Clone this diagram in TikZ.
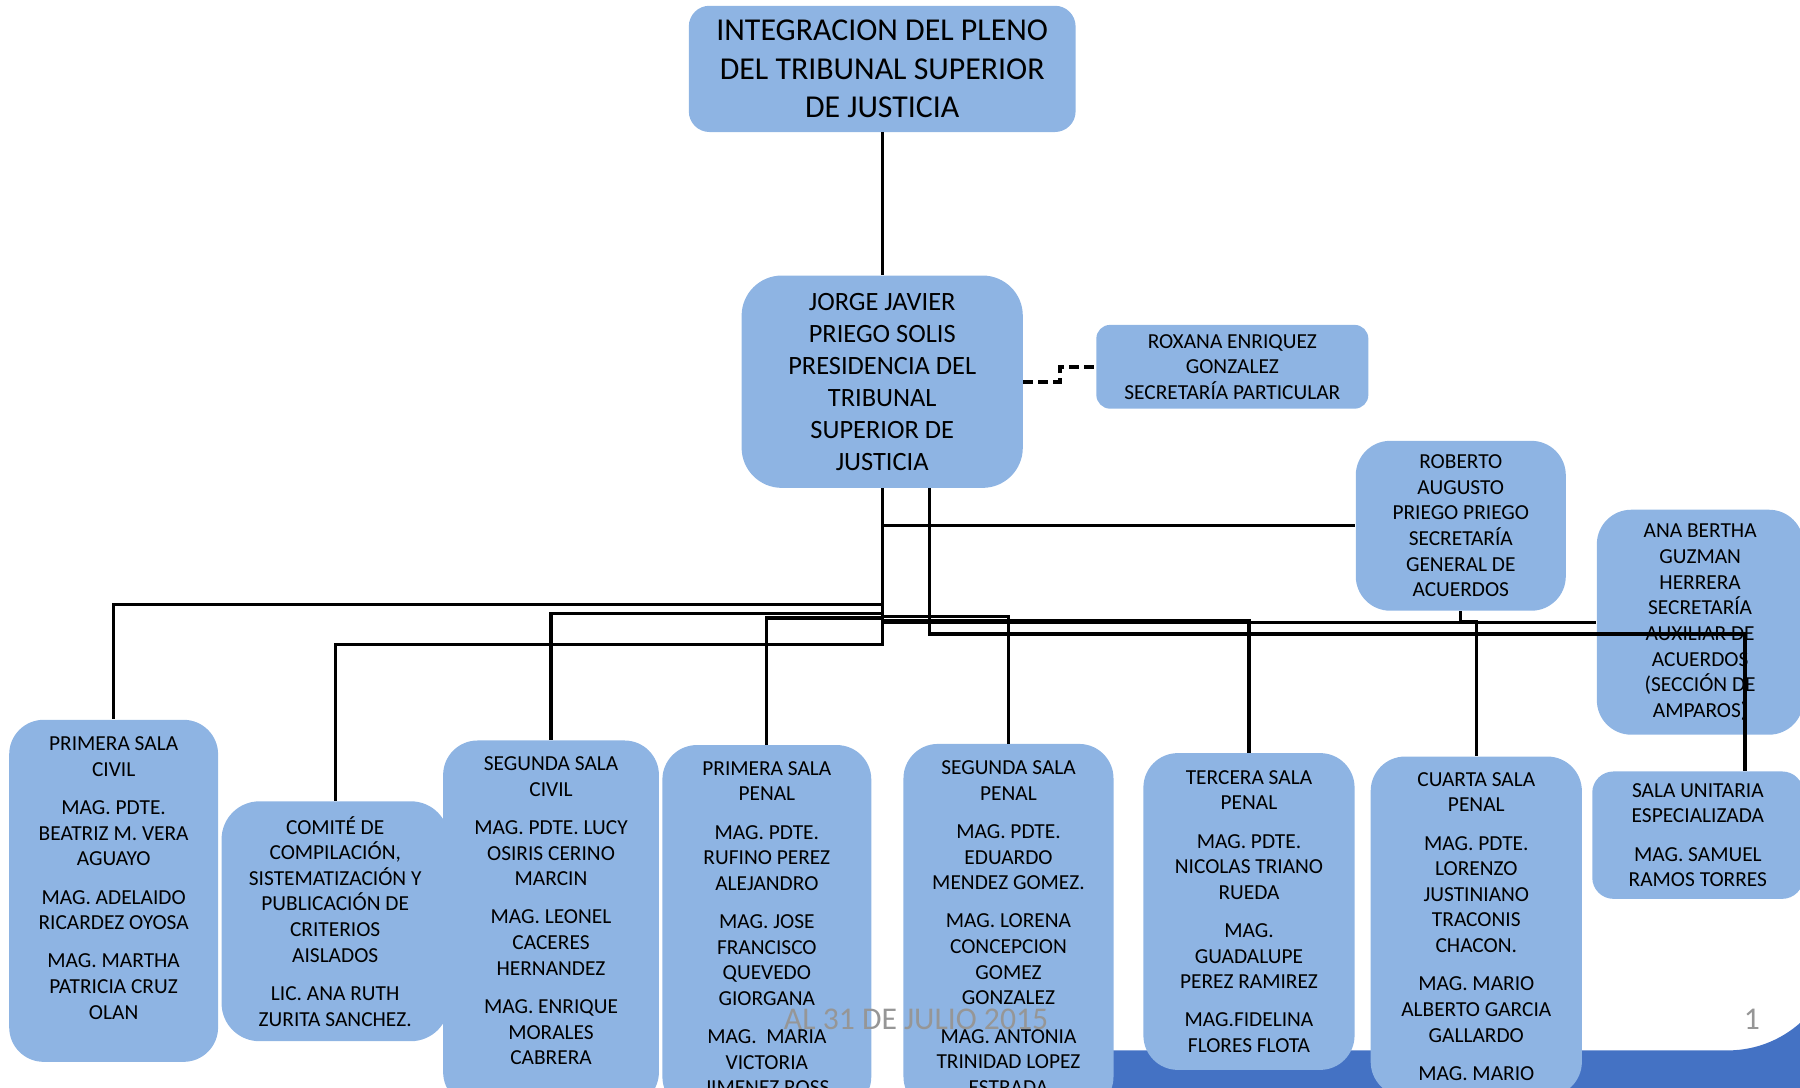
\documentclass[tikz,border=0pt]{standalone}
\usepackage{fontspec}
\setmainfont{Carlito}
\definecolor{boxblue}{RGB}{142,180,227}
\definecolor{bandblue}{RGB}{68,114,196}
\definecolor{footgray}{RGB}{150,150,150}
\begin{document}
\begin{tikzpicture}[x=0.02cm,y=-0.02cm,
		box/.style={rectangle,rounded corners=0.6cm,fill=boxblue,align=center,inner sep=0pt,font=\fontsize{10.6}{12.7}\selectfont},
		link/.style={black,line width=1.6pt},
		aide/.style={black,line width=2pt,dash pattern=on 5pt off 2.5pt},
		foot/.style={text=footgray,font=\fontsize{15.7}{19}\selectfont}]
	\useasboundingbox (0,0) rectangle (1568,947);
	\clip (0,0) rectangle (1568,947);
	% banda inferior
	\fill[bandblue] (962,915)--(1505,915) .. controls (1557.5,915) and (1600,872.5) .. (1600,820)--(1600,950)--(962,950)--cycle;
	% cajas
	\node[box,font=\fontsize{15.8}{19.1}\selectfont,rounded corners=0.36cm,minimum width=6.74cm,minimum height=2.2cm](pleno) at (768.5,60){INTEGRACION DEL PLENO\\DEL TRIBUNAL SUPERIOR\\DE JUSTICIA};
	\node[box,font=\fontsize{13.1}{15.9}\selectfont,rounded corners=0.7cm,minimum width=4.9cm,minimum height=3.7cm](presidencia) at (768.5,332.5){JORGE JAVIER\\PRIEGO SOLIS\\PRESIDENCIA DEL\\TRIBUNAL\\SUPERIOR DE\\JUSTICIA};
	\node[box,rounded corners=0.24cm,minimum width=4.74cm,minimum height=1.46cm](particular) at (1073.5,319.5){ROXANA ENRIQUEZ\\GONZALEZ\\SECRETARÍA PARTICULAR};
	\node[box,minimum width=3.66cm,minimum height=2.96cm](general) at (1272.5,458){ROBERTO\\AUGUSTO\\PRIEGO PRIEGO\\SECRETARÍA\\GENERAL DE\\ACUERDOS};
	\node[box,minimum width=3.6cm,minimum height=3.92cm](auxiliar) at (1481,542){ANA BERTHA\\GUZMAN\\HERRERA\\SECRETARÍA\\AUXILIAR DE\\ACUERDOS\\(SECCIÓN DE\\AMPAROS)};
	\node[box,rounded corners=0.37cm,minimum width=3.68cm,minimum height=2.22cm](unitaria) at (1479,727.5){SALA UNITARIA\\ESPECIALIZADA\\[0.22cm]MAG. SAMUEL\\RAMOS TORRES};
	\node[box,minimum width=3.64cm,minimum height=5.96cm](civil1) at (99,776){PRIMERA SALA\\CIVIL\\[0.22cm]MAG. PDTE.\\BEATRIZ M. VERA\\AGUAYO\\[0.22cm]MAG. ADELAIDO\\RICARDEZ OYOSA\\[0.22cm]MAG. MARTHA\\PATRICIA CRUZ\\OLAN\\\mbox{}};
	\node[box,minimum width=3.76cm,minimum height=6.38cm](civil2) at (480,804.5){SEGUNDA SALA\\CIVIL\\[0.22cm]MAG. PDTE. LUCY\\OSIRIS CERINO\\MARCIN\\[0.22cm]MAG. LEONEL\\CACERES\\HERNANDEZ\\[0.22cm]MAG. ENRIQUE\\MORALES\\CABRERA\\\mbox{}};
	\node[box,rounded corners=0.66cm,minimum width=3.96cm,minimum height=4.18cm](comite) at (292,802.5){COMITÉ DE\\COMPILACIÓN,\\SISTEMATIZACIÓN Y\\PUBLICACIÓN DE\\CRITERIOS\\AISLADOS\\[0.22cm]LIC. ANA RUTH\\ZURITA SANCHEZ.};
	\node[box,minimum width=3.64cm,minimum height=6.38cm](penal1) at (668,808.5){PRIMERA SALA\\PENAL\\[0.22cm]MAG. PDTE.\\RUFINO PEREZ\\ALEJANDRO\\[0.22cm]MAG. JOSE\\FRANCISCO\\QUEVEDO\\GIORGANA\\[0.22cm]MAG.\ \ MARIA\\VICTORIA\\JIMENEZ ROSS};
	\node[box,minimum width=3.66cm,minimum height=6.4cm](penal2) at (878.5,808){SEGUNDA SALA\\PENAL\\[0.22cm]MAG. PDTE.\\EDUARDO\\MENDEZ GOMEZ.\\[0.22cm]MAG. LORENA\\CONCEPCION\\GOMEZ\\GONZALEZ\\[0.22cm]MAG. ANTONIA\\TRINIDAD LOPEZ\\ESTRADA};
	\node[box,minimum width=3.68cm,minimum height=5.52cm](penal3) at (1088,794){TERCERA SALA\\PENAL\\[0.22cm]MAG. PDTE.\\NICOLAS TRIANO\\RUEDA\\[0.22cm]MAG.\\GUADALUPE\\PEREZ RAMIREZ\\[0.22cm]MAG.FIDELINA\\FLORES FLOTA};
	\node[box,minimum width=3.68cm,minimum height=5.92cm](penal4) at (1286,807){CUARTA SALA\\PENAL\\[0.22cm]MAG. PDTE.\\LORENZO\\JUSTINIANO\\TRACONIS\\CHACON.\\[0.22cm]MAG. MARIO\\ALBERTO GARCIA\\GALLARDO\\[0.22cm]MAG. MARIO};
	% lineas
	\draw[link](pleno)--(presidencia);
	\draw[aide](presidencia.east)--++(32,0)|-(particular.west);
	\draw[link](presidencia.south)|-(general.west);
	\draw[link](presidencia.south)|-(auxiliar.west);
	\draw[link](presidencia.south)--++(0,101)-|(civil1.north);
	\draw[link](presidencia.south)--++(0,109)-|(civil2.north);
	\draw[link](presidencia.south)--++(0,136)-|(comite.north);
	\draw[link](presidencia.south)--++(0,113)-|(penal1.north);
	\draw[link](presidencia.south)--++(0,112)-|(penal2.north);
	\draw[link](presidencia.south)--++(0,115)-|(penal3.north);
	\draw[link](general.south)--++(0,9)-|(penal4.north);
	\draw[link]([xshift=0.82cm]presidencia.south)--++(0,127)-|([xshift=0.82cm]unitaria.north);
	% pie
	\node[foot](fecha) at (798,888){AL 31 DE JULIO 2015};
	\node[foot](pagina) at (1526,888){1};
\end{tikzpicture}
\end{document}
